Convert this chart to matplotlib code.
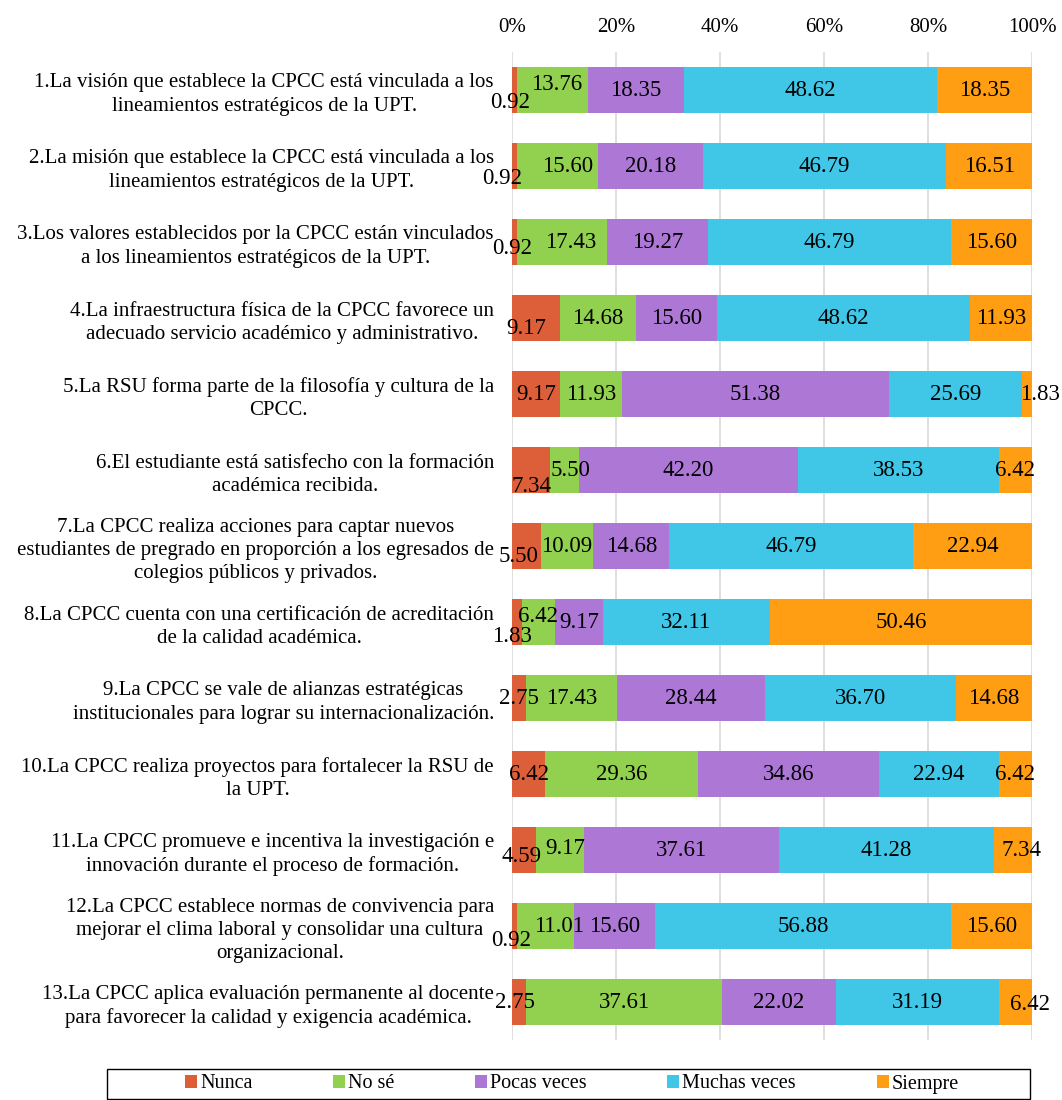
"""Horizontal 100% stacked bars: perception of the CPCC items (Likert scale)."""
import matplotlib
matplotlib.use("Agg")
import matplotlib.pyplot as plt
from matplotlib.patches import Rectangle
from matplotlib.ticker import FuncFormatter

plt.rcParams["font.family"] = ["Liberation Serif", "DejaVu Serif"]

ITEMS = [
    "1.La visión que establece la CPCC está vinculada a los\nlineamientos estratégicos de la UPT.",
    "2.La misión que establece la CPCC está vinculada a los\nlineamientos estratégicos de la UPT.",
    "3.Los valores establecidos por la CPCC están vinculados\na los lineamientos estratégicos de la UPT.",
    "4.La infraestructura física de la CPCC favorece un\nadecuado servicio académico y administrativo.",
    "5.La RSU forma parte de la filosofía y cultura de la\nCPCC.",
    "6.El estudiante está satisfecho con la formación\nacadémica recibida.",
    "7.La CPCC realiza acciones para captar nuevos\nestudiantes de pregrado en proporción a los egresados de\ncolegios públicos y privados.",
    "8.La CPCC cuenta con una certificación de acreditación\nde la calidad académica.",
    "9.La CPCC se vale de alianzas estratégicas\ninstitucionales para lograr su internacionalización.",
    "10.La CPCC realiza proyectos para fortalecer la RSU de\nla UPT.",
    "11.La CPCC promueve e incentiva la investigación e\ninnovación durante el proceso de formación.",
    "12.La CPCC establece normas de convivencia para\nmejorar el clima laboral y consolidar una cultura\norganizacional.",
    "13.La CPCC aplica evaluación permanente al docente\npara favorecer la calidad y exigencia académica.",
]

CATEGORIES = ["Nunca", "No sé", "Pocas veces", "Muchas veces", "Siempre"]

nunca = [0.92, 0.92, 0.92, 9.17, 9.17, 7.34, 5.50, 1.83, 2.75, 6.42, 4.59, 0.92, 2.75]
no_se = [13.76, 15.60, 17.43, 14.68, 11.93, 5.50, 10.09, 6.42, 17.43, 29.36, 9.17, 11.01, 37.61]
pocas = [18.35, 20.18, 19.27, 15.60, 51.38, 42.20, 14.68, 9.17, 28.44, 34.86, 37.61, 15.60, 22.02]
muchas = [48.62, 46.79, 46.79, 48.62, 25.69, 38.53, 46.79, 32.11, 36.70, 22.94, 41.28, 56.88, 31.19]
siempre = [18.35, 16.51, 15.60, 11.93, 1.83, 6.42, 22.94, 50.46, 14.68, 6.42, 7.34, 15.60, 6.42]

SERIES = [nunca, no_se, pocas, muchas, siempre]
COLORS = ["#DD5F3A", "#92D050", "#AD78D5", "#40C7E7", "#FF9E12"]

# hand-placed label nudges (pixels, dx right / dy down), like the Excel original
NUDGE = {
    (0, 0): (-4, 13), (0, 1): (4, -6),
    (1, 0): (-12, 12), (1, 1): (10, 0),
    (2, 0): (-2, 7), (2, 1): (9, 0),
    (3, 0): (-10, 11),
    (4, 4): (13, 0),
    (5, 0): (0, 17), (5, 1): (6, 0),
    (6, 0): (-8, 10),
    (7, 0): (-5, 15), (7, 1): (0, -5),
    (10, 0): (-2, 6), (10, 1): (5, -2), (10, 4): (9, 0),
    (11, 0): (-3, 14), (11, 1): (14, 0),
    (12, 0): (-4, 0), (12, 4): (15, 3),
}

FS = 15


def main():
    fig = plt.figure(figsize=(10.62, 11), dpi=100)
    ax = fig.add_axes([512 / 1062, 1 - 1040 / 1100, 520 / 1062, 988 / 1100])

    n = len(ITEMS)
    ys = list(range(n))
    left = [0.0] * n
    handles = []
    for k, (vals, col, name) in enumerate(zip(SERIES, COLORS, CATEGORIES)):
        bars = ax.barh(ys, vals, left=left, height=0.605, color=col, label=name, zorder=2)
        handles.append(bars)
        for i, v in enumerate(vals):
            dx, dy = NUDGE.get((i, k), (0, 0))
            ax.annotate(f"{v:.2f}", (left[i] + v / 2, i), xytext=(dx * 0.72, -dy * 0.72),
                        textcoords="offset points", ha="center", va="center",
                        fontsize=16.5, color="black", zorder=3)
        left = [a + b for a, b in zip(left, vals)]

    ax.set_xlim(0, 100)
    ax.set_ylim(n - 0.5, -0.5)
    ax.set_xticks([0, 20, 40, 60, 80, 100])
    ax.xaxis.set_major_formatter(FuncFormatter(lambda x, _: f"{x:.0f}%"))
    ax.xaxis.tick_top()
    ax.set_yticks(ys)
    ax.set_yticklabels(ITEMS, fontsize=FS, ha="right", multialignment="center",
                       linespacing=1.3)
    ax.tick_params(axis="x", length=0, pad=11, labelsize=FS)
    ax.tick_params(axis="y", length=0, pad=13)
    ax.grid(True, axis="x", color="#D9D9D9", lw=1.2, zorder=0)
    for s in ax.spines.values():
        s.set_visible(False)

    # legend box spanning the width, entries centred in it
    fig.patches.append(Rectangle((107 / 1062, 1 - 1099 / 1100), 923 / 1062, 30 / 1100,
                                 transform=fig.transFigure, fill=False,
                                 edgecolor="black", lw=1.0))
    fig.legend(handles=handles, loc="center", bbox_to_anchor=(572 / 1062, 1 - 1084 / 1100),
               ncol=5, fontsize=14.5, frameon=False, handlelength=0.6, handleheight=0.6,
               handletextpad=0.15, columnspacing=4.0, borderaxespad=0, borderpad=0)

    fig.savefig("out.png", dpi=100)


if __name__ == "__main__":
    main()
